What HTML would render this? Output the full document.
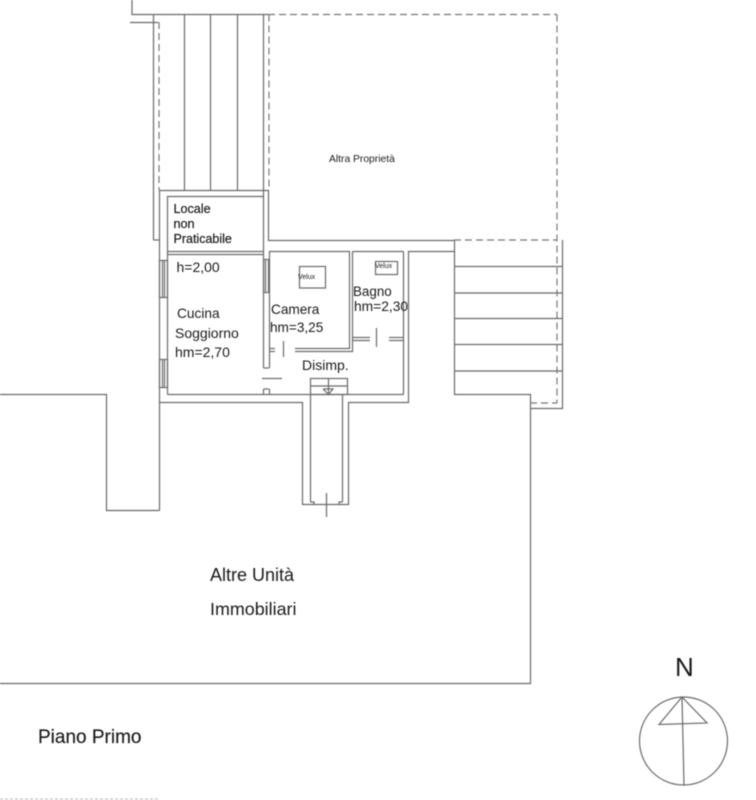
<!DOCTYPE html>
<html><head><meta charset="utf-8"><style>
html,body{margin:0;padding:0;background:#fff;width:756px;height:800px;overflow:hidden}
svg{display:block}
text{font-family:"Liberation Sans",sans-serif;fill:#1a1a1a}
.l line,.l polyline,.l rect,.l circle,.l polygon{fill:none;stroke:#6a6a6a;stroke-width:1.2}
.d line{stroke:#777;stroke-width:1.2;stroke-dasharray:7 4;fill:none}
</style></head><body>
<svg width="756" height="800" viewBox="0 0 756 800" xmlns="http://www.w3.org/2000/svg">
<rect width="756" height="800" fill="#fff"/>
<g style="filter:blur(.4px)">
<g class="l">
<!-- top structure -->
<polyline points="132,0 132,14.5 268,14.5"/>
<polyline points="130,22.5 158,22.5"/>
<line x1="153.5" y1="14.5" x2="153.5" y2="240"/>
<line x1="153.5" y1="240" x2="159" y2="240"/>
<line x1="184.5" y1="14.5" x2="184.5" y2="190"/>
<line x1="210.5" y1="14.5" x2="210.5" y2="190"/>
<line x1="237.5" y1="14.5" x2="237.5" y2="190"/>
<line x1="263.5" y1="14.5" x2="263.5" y2="196"/>
<!-- main outer wall -->
<polyline points="159.5,510.5 159.5,190.5 268.5,190.5 268.5,240.5 454.5,240.5"/>
<polyline points="159.5,402.5 302.5,402.5 302.5,504.5 348.5,504.5 348.5,402.5 408.5,402.5 408.5,251.5 454.5,251.5"/>
<!-- locale -->
<polyline points="167.5,394.5 167.5,196.5 263.5,196.5 263.5,368"/>
<line x1="167.5" y1="251.5" x2="263.5" y2="251.5"/>
<line x1="167.5" y1="254.5" x2="263.5" y2="254.5"/>
<line x1="263.5" y1="389" x2="263.5" y2="394.5"/>
<line x1="263.5" y1="389" x2="269" y2="389"/>
<line x1="263.5" y1="368" x2="269" y2="368"/>
<line x1="167.5" y1="394.5" x2="403.5" y2="394.5"/>
<!-- windows -->
<rect x="159.5" y="260.5" width="8" height="37"/>
<line x1="162.5" y1="260.5" x2="162.5" y2="297.5"/>
<line x1="164.5" y1="260.5" x2="164.5" y2="297.5"/>
<rect x="159.5" y="359.5" width="8" height="28"/>
<line x1="162.5" y1="359.5" x2="162.5" y2="387.5"/>
<line x1="164.5" y1="359.5" x2="164.5" y2="387.5"/>
<rect x="263.5" y="259.5" width="5" height="33"/>
<line x1="265.5" y1="259.5" x2="265.5" y2="292.5"/>
<!-- camera -->
<polyline points="269.5,368 269.5,251.5 349.5,251.5 349.5,348.5 295,348.5"/>
<line x1="269.5" y1="389" x2="269.5" y2="394.5"/>
<polyline points="352.5,251.5 352.5,351.5 295,351.5"/>
<line x1="269.5" y1="348.5" x2="275" y2="348.5"/>
<line x1="269.5" y1="351.5" x2="275" y2="351.5"/>
<line x1="283.5" y1="341" x2="283.5" y2="357"/>
<!-- bagno -->
<line x1="352.5" y1="251.5" x2="403.5" y2="251.5"/>
<line x1="403.5" y1="251.5" x2="403.5" y2="394.5"/>
<line x1="352.5" y1="337.5" x2="370" y2="337.5"/>
<line x1="352.5" y1="340.5" x2="370" y2="340.5"/>
<line x1="389" y1="337.5" x2="403.5" y2="337.5"/>
<line x1="389" y1="340.5" x2="403.5" y2="340.5"/>
<line x1="376.5" y1="328" x2="376.5" y2="347"/>
<line x1="262" y1="378.5" x2="282" y2="378.5"/>
<!-- velux -->
<rect x="299.5" y="266.5" width="26" height="21.5"/>
<rect x="375.5" y="261.5" width="22" height="13"/>
<!-- corridor -->
<polyline points="310.5,394.5 310.5,502"/>
<polyline points="342.5,394.5 342.5,502"/>
<rect x="310.5" y="378.5" width="37" height="16"/>
<line x1="310.5" y1="386" x2="347.5" y2="386"/>
<line x1="328.5" y1="378.5" x2="328.5" y2="394.5"/>
<polyline points="323,389 333,389 328.5,394.5 323,389"/>
<polyline points="310.5,502 314,502 314,504.5"/>
<polyline points="342.5,502 339,502 339,504.5"/>
<line x1="326.5" y1="493" x2="326.5" y2="517"/>
<!-- altre unita outline -->
<polyline points="0,394.5 106.5,394.5 106.5,510.5 159.5,510.5"/>
<polyline points="0,683.5 530.5,683.5 530.5,394.5 454.5,394.5 454.5,240.5"/>
<!-- stairs right -->
<polyline points="530.5,408.5 562.5,408.5 562.5,240"/>
<line x1="454.5" y1="266.5" x2="562.5" y2="266.5"/>
<line x1="454.5" y1="293" x2="562.5" y2="293"/>
<line x1="454.5" y1="318.5" x2="562.5" y2="318.5"/>
<line x1="454.5" y1="344.5" x2="562.5" y2="344.5"/>
<line x1="454.5" y1="371" x2="562.5" y2="371"/>
<!-- compass -->
<circle cx="683.5" cy="741" r="44"/>
<polygon points="682,697 659,724.5 707,723"/>
<line x1="682" y1="697" x2="684" y2="785"/>
</g>
<g class="d">
<line x1="268" y1="14.5" x2="557" y2="14.5"/>
<line x1="159" y1="22" x2="159" y2="190"/>
<line x1="269" y1="14.5" x2="269" y2="190"/>
<line x1="557" y1="14.5" x2="557" y2="403"/>
<line x1="454" y1="240" x2="557" y2="240"/>
<line x1="530" y1="403" x2="557" y2="403"/>
</g>
<line x1="0" y1="799" x2="160" y2="799" stroke="#bbb" stroke-width="1" stroke-dasharray="3 2"/>
<text x="329" y="162" font-size="10.3">Altra Proprietà</text>
<text x="173.5" y="213" font-size="12.6" stroke="#1a1a1a" stroke-width=".2">Locale</text>
<text x="173.5" y="228" font-size="12.6" stroke="#1a1a1a" stroke-width=".2">non</text>
<text x="173.5" y="243" font-size="12.5" stroke="#1a1a1a" stroke-width=".2">Praticabile</text>
<text x="176.5" y="272" font-size="14">h=2,00</text>
<text x="177" y="318" font-size="13.7">Cucina</text>
<text x="175" y="338" font-size="14">Soggiorno</text>
<text x="175" y="357" font-size="14">hm=2,70</text>
<text x="271" y="314" font-size="13.6">Camera</text>
<text x="270" y="332" font-size="13.6">hm=3,25</text>
<text x="353" y="296" font-size="13.4">Bagno</text>
<text x="354" y="311" font-size="13.8">hm=2,30</text>
<text x="302" y="370" font-size="14">Disimp.</text>
<text x="298" y="279" font-size="7">Velux</text>
<text x="375" y="268" font-size="7">Velux</text>
<text x="210" y="581" font-size="18">Altre Unità</text>
<text x="210" y="615" font-size="17.9">Immobiliari</text>
<text x="38" y="743" font-size="19" stroke="#1a1a1a" stroke-width=".15">Piano Primo</text>
<text x="675" y="676" font-size="26">N</text>
</g>
</svg>
</body></html>
